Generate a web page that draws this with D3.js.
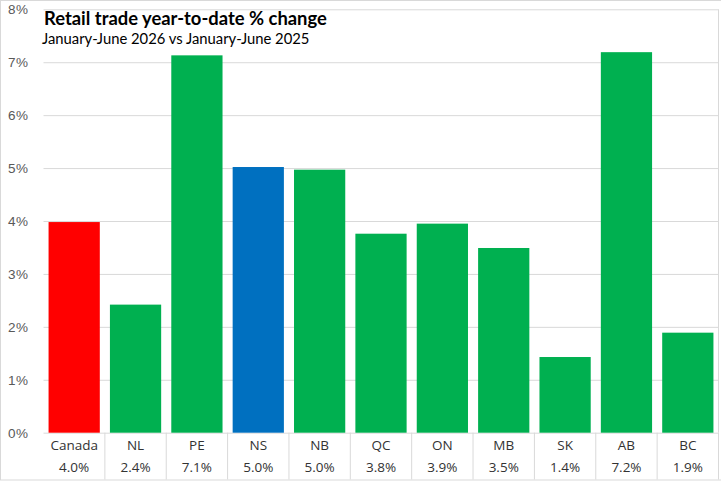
<!DOCTYPE html>
<html>
<head>
<meta charset="utf-8">
<script src="https://cdn.jsdelivr.net/npm/d3@7"></script>
<style>
  body { margin: 0; background: #fff; }
  svg { display: block; font-family: "Open Sans", sans-serif; }
</style>
</head>
<body>
<svg id="chart" width="721" height="481"></svg>
<script>
const regions = ["Canada", "NL", "PE", "NS", "NB", "QC", "ON", "MB", "SK", "AB", "BC"];
const changes = [3.98, 2.42, 7.13, 5.02, 4.97, 3.76, 3.95, 3.49, 1.43, 7.19, 1.89];
const changeLabels = ["4.0%", "2.4%", "7.1%", "5.0%", "5.0%", "3.8%", "3.9%", "3.5%", "1.4%", "7.2%", "1.9%"];
const barColors = ["#FF0000", "#00B050", "#00B050", "#0070C0", "#00B050", "#00B050",
  "#00B050", "#00B050", "#00B050", "#00B050", "#00B050"];
const yTicks = [0, 1, 2, 3, 4, 5, 6, 7, 8];

const svg = d3.select("#chart");
const W = 721;
const plotLeft = 43.5, plotRight = 718.5, plotTop = 9.3, base = 432.7, frameBottom = 479.5;
const gridColor = "#D9D9D9";

const x = d3.scaleBand().domain(regions).range([plotLeft, plotRight]).paddingInner(0.165).paddingOuter(0.0825);
const xCell = d3.scaleBand().domain(regions).range([plotLeft, plotRight]);
const y = d3.scaleLinear().domain([0, 8]).range([base, plotTop]);

// outer frame
svg.append("rect")
  .attr("x", 0.5).attr("y", 0.5)
  .attr("width", W).attr("height", frameBottom)
  .attr("fill", "none").attr("stroke", gridColor);

// gridlines + y labels
const yAxis = svg.append("g").attr("transform", `translate(${plotLeft},0)`)
  .call(d3.axisLeft(y).tickValues(yTicks).tickSize(-(plotRight - plotLeft)).tickPadding(15).tickFormat(d => d + "%"));
yAxis.select(".domain").remove();
yAxis.selectAll(".tick line").attr("stroke", gridColor);
yAxis.selectAll(".tick text")
  .attr("fill", "#595959").attr("font-size", 13.5).style("letter-spacing", "0.5px");

// bars
svg.append("g").selectAll("rect")
  .data(regions)
  .join("rect")
  .attr("x", d => x(d))
  .attr("width", x.bandwidth())
  .attr("y", (d, i) => y(changes[i]))
  .attr("height", (d, i) => base - y(changes[i]))
  .attr("fill", (d, i) => barColors[i]);

// data table under the axis
const table = svg.append("g");
const seps = regions.slice(1).map(d => xCell(d)).concat([plotRight]);
table.selectAll("line.sep")
  .data(seps)
  .join("line")
  .attr("class", "sep")
  .attr("x1", d => d).attr("x2", d => d)
  .attr("y1", base).attr("y2", frameBottom)
  .attr("stroke", gridColor);
svg.append("line")
  .attr("x1", plotRight).attr("x2", plotRight).attr("y1", plotTop).attr("y2", base)
  .attr("stroke", gridColor);

table.selectAll("text.cat")
  .data(regions)
  .join("text")
  .attr("class", "cat")
  .attr("x", d => xCell(d) + xCell.bandwidth() / 2)
  .attr("y", 449.5)
  .attr("text-anchor", "middle")
  .attr("font-size", 13.5)
  .attr("fill", "#333")
  .text(d => d);

table.selectAll("text.val")
  .data(regions)
  .join("text")
  .attr("class", "val")
  .attr("x", d => xCell(d) + xCell.bandwidth() / 2)
  .attr("y", 472)
  .attr("text-anchor", "middle")
  .attr("font-size", 13.5)
  .attr("fill", "#333")
  .text((d, i) => changeLabels[i]);

// title
svg.append("text")
  .attr("x", 44).attr("y", 25)
  .attr("font-family", "Lato, sans-serif")
  .attr("font-weight", "bold")
  .attr("font-size", 18.4)
  .attr("fill", "#000")
  .text("Retail trade year-to-date % change");

svg.append("text")
  .attr("x", 42).attr("y", 44)
  .attr("font-family", "Lato, sans-serif")
  .attr("font-size", 14.8)
  .attr("fill", "#000")
  .text("January-June 2026 vs January-June 2025");
</script>
</body>
</html>
